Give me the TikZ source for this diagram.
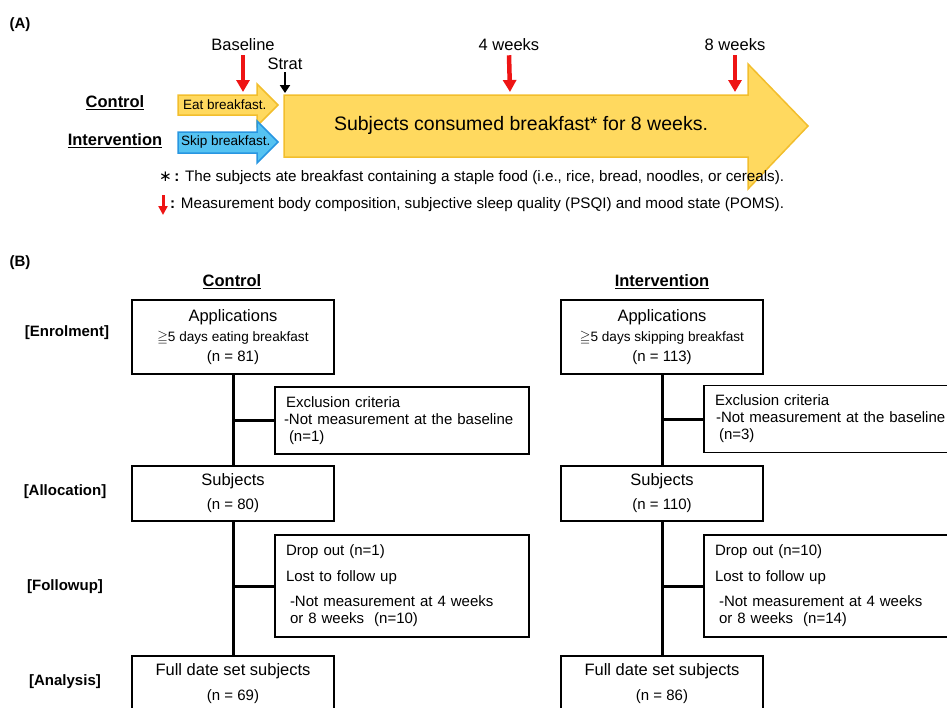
\documentclass[tikz,border=0pt]{standalone}
\usepackage{amssymb}
\usepackage{fontspec}
\setmainfont{Liberation Sans}
\newfontfamily\symfont{DejaVu Sans}
\usetikzlibrary{arrows.meta,positioning,calc}

\definecolor{bfyellow}{RGB}{255,217,95}
\definecolor{bfyellowline}{RGB}{242,190,45}
\definecolor{bfblue}{RGB}{85,195,242}
\definecolor{bfblueline}{RGB}{40,150,225}
\definecolor{markred}{RGB}{238,20,20}

\tikzset{
  flowbox/.style={draw, line width=1.2pt, minimum width=202pt, inner sep=0pt, align=center},
  notebox/.style={draw, line width=1.2pt, minimum width=254pt, text width=242pt,
    inner xsep=6pt, inner ysep=0pt, align=left, font=\fontsize{15}{17}\selectfont},
  trunk/.style={line width=3pt},
  stage/.style={font=\bfseries\fontsize{15}{18}\selectfont},
  grouphead/.style={font=\bfseries\fontsize{16.5}{20}\selectfont},
  timelabel/.style={font=\fontsize{16.5}{20}\selectfont, inner sep=1pt},
  footnote/.style={anchor=west, inner sep=0pt, font=\fontsize{15.2}{18}\selectfont},
  marker/.style={markred, line width=4.5pt, -{Triangle[width=13pt,length=12pt]}},
}

\begin{document}
\begin{tikzpicture}[x=1pt, y=-1pt, >=Stealth]
\clip (0,0) rectangle (947,707);

% (A) study design
\node[font=\bfseries\fontsize{15}{18}\selectfont] (panelA) at (20,25) {(A)};

\filldraw[fill=bfyellow, draw=bfyellowline, line width=1.5pt]
  (178,95) -- (257,95) -- (257,84) -- (278,105) -- (257,126) -- (257,115) -- (178,115) -- cycle;
\filldraw[fill=bfblue, draw=bfblueline, line width=1.5pt]
  (178,132) -- (257,132) -- (257,121) -- (278,142) -- (257,163) -- (257,153) -- (178,153) -- cycle;
\filldraw[fill=bfyellow, draw=bfyellowline, line width=1.5pt]
  (284,95) -- (748,95) -- (748,64) -- (808,126) -- (748,189) -- (748,157) -- (284,157) -- cycle;

\node[anchor=west, inner sep=0pt, font=\fontsize{13.5}{16}\selectfont] (eatLbl) at (183,105) {Eat breakfast.};
\node[anchor=west, inner sep=0pt, font=\fontsize{13.5}{16}\selectfont] (skipLbl) at (181,142) {Skip breakfast.};
\node[font=\fontsize{19.5}{22}\selectfont] (mainLbl) at (521,125) {Subjects consumed breakfast* for 8 weeks.};

\node[grouphead] (ctrlA) at (115,103) {\underline{Control}};
\node[grouphead] (intA) at (115,141) {\underline{Intervention}};

\node[timelabel] (base) at (243,45) {Baseline};
\node[timelabel] (strat) at (285,64) {Strat};
\node[timelabel] (wk4) at (509,45) {4 weeks};
\node[timelabel] (wk8) at (735,45) {8 weeks};
\coordinate (baseTip) at (243,92);
\coordinate (stratTip) at (285,93);
\coordinate (wk4Tip) at (510,92);
\coordinate (wk8Tip) at (735,92);
\draw[marker] ([yshift=-3pt]base.south) -- (baseTip);
\draw[marker] ([yshift=-3pt]wk4.south) -- (wk4Tip);
\draw[marker] ([yshift=-3pt]wk8.south) -- (wk8Tip);
\draw[line width=2.2pt, -{Triangle[width=10pt,length=8pt]}] ([yshift=-1pt]strat.south) -- (stratTip);

\node[footnote] (noteStar) at (159,178)
  {{\symfont ∗}\,\textbf{:} The subjects ate breakfast containing a staple food (i.e., rice, bread, noodles, or cereals).};
\coordinate (legTop) at (163,195);
\coordinate (legTip) at (163,215);
\draw[marker, line width=3pt, -{Triangle[width=9pt,length=9pt]}] (legTop) -- (legTip);
\node[footnote] (noteArrow) at (170,205)
  {\textbf{:} Measurement body composition, subjective sleep quality (PSQI) and mood state (POMS).};

% (B) flow of participants
\node[font=\bfseries\fontsize{15}{18}\selectfont] (panelB) at (20,263) {(B)};
\node[grouphead] (ctrlB) at (232,282) {\underline{Control}};
\node[grouphead] (intB) at (662,282) {\underline{Intervention}};

\node[stage] (enrol) at (67,333) {[Enrolment]};
\node[stage] (alloc) at (65,492) {[Allocation]};
\node[stage] (follow) at (65,587) {[Followup]};
\node[stage] (anal) at (65,682) {[Analysis]};

% control arm
\node[flowbox, minimum height=74pt, font=\fontsize{15}{20}\selectfont] (appC) at (233,337)
  {{\fontsize{16.5}{20}\selectfont Applications}\\{\fontsize{13.6}{20}\selectfont$\geqq$5 days eating breakfast}\\(n = 81)};
\node[notebox, minimum height=67pt] (exclC) at (402,420.5)
  {\hspace*{5pt}Exclusion criteria\\\hspace*{3pt}-Not measurement at the baseline\\\hspace*{8pt}(n=1)};
\node[flowbox, minimum height=55pt, font=\fontsize{15}{24}\selectfont] (subjC) at (233,493.5)
  {{\fontsize{16.5}{24}\selectfont Subjects}\\(n = 80)};
\node[notebox, minimum height=102pt] (dropC) at (402,586)
  {\hspace*{5pt}Drop out (n=1)\\[9pt]\hspace*{5pt}Lost to follow up\\[8pt]\hspace*{9pt}-Not measurement at 4 weeks\\\hspace*{9pt}or 8 weeks~ (n=10)};
\node[flowbox, minimum height=55pt, font=\fontsize{15}{25}\selectfont] (analC) at (233,683.5)
  {{\fontsize{16.5}{25}\selectfont Full date set subjects}\\(n = 69)};

\draw[trunk] (appC) -- (subjC);
\draw[trunk] (appC.south |- exclC.west) -- (exclC.west);
\draw[trunk] (subjC) -- (analC);
\draw[trunk] (subjC.south |- dropC.west) -- (dropC.west);

% intervention arm
\node[flowbox, minimum height=74pt, font=\fontsize{15}{20}\selectfont] (appI) at (662,337)
  {{\fontsize{16.5}{20}\selectfont Applications}\\{\fontsize{13.6}{20}\selectfont$\geqq$5 days skipping breakfast}\\(n = 113)};
\node[notebox, minimum height=67pt] (exclI) at (831,419)
  {\hspace*{5pt}Exclusion criteria\\\hspace*{6pt}-Not measurement at the baseline\\\hspace*{9pt}(n=3)};
\node[flowbox, minimum height=55pt, font=\fontsize{15}{24}\selectfont] (subjI) at (662,493.5)
  {{\fontsize{16.5}{24}\selectfont Subjects}\\(n = 110)};
\node[notebox, minimum height=102pt] (dropI) at (831,586)
  {\hspace*{5pt}Drop out (n=10)\\[9pt]\hspace*{5pt}Lost to follow up\\[8pt]\hspace*{9pt}-Not measurement at 4 weeks\\\hspace*{9pt}or 8 weeks~ (n=14)};
\node[flowbox, minimum height=55pt, font=\fontsize{15}{25}\selectfont] (analI) at (662,683.5)
  {{\fontsize{16.5}{25}\selectfont Full date set subjects}\\(n = 86)};

\draw[trunk] (appI) -- (subjI);
\draw[trunk] (appI.south |- exclI.west) -- (exclI.west);
\draw[trunk] (subjI) -- (analI);
\draw[trunk] (subjI.south |- dropI.west) -- (dropI.west);
\end{tikzpicture}
\end{document}
